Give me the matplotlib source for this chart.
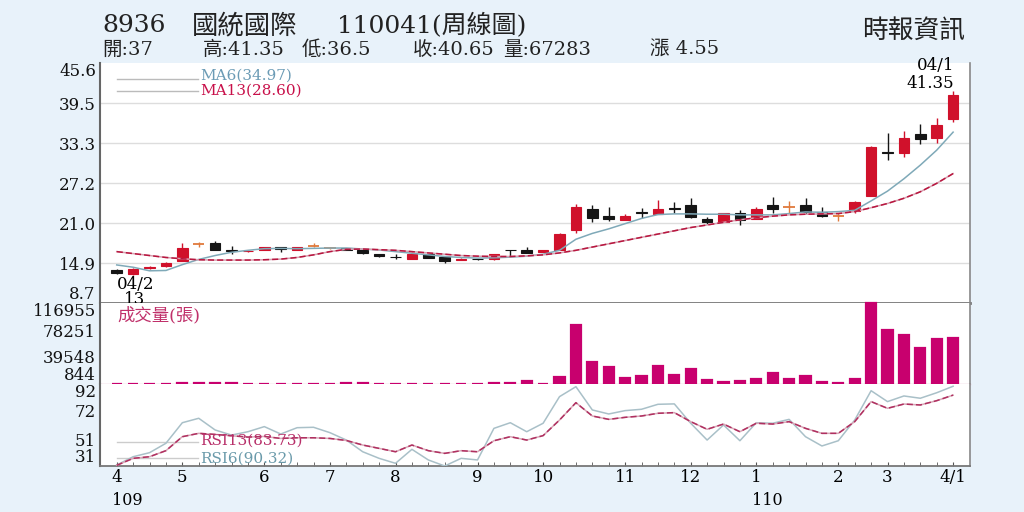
import numpy as np
import matplotlib.pyplot as plt

plt.rcParams['font.family'] = ['DejaVu Serif', 'Noto Sans CJK TC']

# weekly candles, index 0 = week of 109/04/13, last = 110/04/01
opens = [13.8, 13.2, 14.05, 14.35, 15.2, 17.7, 17.9, 16.8, 16.7, 16.9, 17.25, 16.9, 17.5, 17.1,
         17.1, 16.9, 16.2, 15.8, 15.5, 16.2, 15.7, 15.35, 15.45, 15.4, 16.85, 16.85, 16.55, 16.85,
         19.9, 23.15, 22.1, 21.5, 22.65, 22.4, 23.25, 23.8, 21.6, 21.2, 22.6, 21.6, 23.75, 23.5,
         23.75, 22.7, 22.1, 22.85, 25.15, 31.9, 31.7, 34.7, 34.0, 37.0]
closes = [13.3, 14.0, 14.3, 14.9, 17.1, 17.7, 16.85, 16.7, 16.75, 17.25, 16.95, 17.25, 17.5, 17.1,
          16.85, 16.4, 15.85, 15.7, 16.2, 15.6, 15.2, 15.45, 15.4, 16.2, 16.8, 16.45, 16.85, 19.3,
          23.4, 21.8, 21.6, 22.1, 22.5, 23.1, 23.15, 21.85, 21.15, 22.5, 21.5, 23.15, 23.1, 23.5,
          22.65, 22.0, 22.1, 24.3, 32.7, 31.8, 34.0, 33.9, 36.1, 40.65]
highs = [13.9, 14.1, 14.35, 15.0, 18.0, 18.1, 18.3, 17.5, 16.9, 17.35, 17.3, 17.3, 17.9, 17.2,
         17.15, 16.95, 16.25, 16.2, 16.6, 16.25, 15.75, 15.55, 15.5, 16.3, 16.9, 17.35, 16.9, 19.4,
         23.9, 23.8, 23.5, 22.4, 23.25, 24.5, 24.3, 24.8, 21.9, 22.6, 23.0, 23.4, 25.0, 24.4,
         24.8, 23.4, 22.6, 24.4, 32.8, 34.9, 35.2, 36.2, 37.1, 41.35]
lows = [13.2, 13.0, 14.0, 14.3, 15.1, 17.3, 16.8, 16.3, 16.6, 16.85, 16.5, 16.85, 17.35, 17.0,
        16.8, 16.2, 15.8, 15.4, 15.45, 15.55, 14.8, 15.3, 15.3, 15.35, 15.9, 16.4, 16.5, 16.8,
        19.5, 21.2, 21.3, 21.4, 21.8, 22.35, 22.5, 21.8, 20.85, 21.15, 20.7, 21.55, 22.6, 22.6,
        22.4, 21.9, 21.35, 22.5, 25.1, 30.7, 31.1, 33.1, 33.35, 36.5]
ma6 = [14.55, 14.2, 13.65, 13.7, 14.6, 15.4, 16.0, 16.5, 16.8, 17.05, 17.1, 17.05, 17.1, 17.15,
       17.15, 17.0, 16.85, 16.6, 16.35, 16.1, 15.85, 15.7, 15.6, 15.65, 15.75, 15.9, 16.2, 16.8,
       18.5, 19.4, 20.1, 20.9, 21.7, 22.3, 22.4, 22.4, 22.35, 22.35, 22.25, 22.25, 22.25, 22.45,
       22.7, 22.65, 22.75, 22.95, 24.4, 25.9, 27.8, 29.9, 32.2, 34.97]
ma13 = [16.6, 16.3, 16.0, 15.7, 15.5, 15.35, 15.3, 15.3, 15.3, 15.35, 15.45, 15.7, 16.1, 16.6,
        16.95, 17.0, 16.9, 16.8, 16.6, 16.4, 16.2, 16.0, 15.9, 15.85, 15.85, 15.95, 16.1, 16.4,
        16.8, 17.3, 17.8, 18.3, 18.8, 19.3, 19.8, 20.3, 20.7, 21.1, 21.5, 21.8, 22.05, 22.25,
        22.35, 22.4, 22.45, 22.75, 23.35, 24.0, 24.8, 25.8, 27.1, 28.6]
vol = [1500, 1500, 1200, 1300, 2700, 2200, 2200, 2000, 1100, 1100, 1100, 1100, 1100, 1500,
       1800, 1800, 1100, 1100, 1100, 1100, 1100, 1100, 1000, 2200, 2700, 5600, 1000, 10500,
       85400, 32800, 24800, 9900, 12300, 26200, 13700, 22300, 6600, 3700, 5100, 8000, 17000, 8000,
       12300, 3700, 2700, 8400, 116955, 78251, 70700, 52400, 65400, 67283]
rsi6 = [31.7, 37.9, 40.9, 47.9, 63.2, 66.5, 57.8, 54.0, 56.5, 60.3, 54.8, 59.5, 59.8, 55.8,
        50.3, 41.6, 36.7, 33.0, 43.4, 35.5, 31.0, 36.7, 35.5, 59.0, 63.2, 56.5, 62.8, 82.6,
        90.0, 72.7, 69.7, 72.2, 73.2, 76.9, 77.2, 62.8, 50.3, 61.5, 49.8, 63.2, 62.8, 65.7,
        52.8, 45.9, 49.8, 65.2, 87.0, 78.9, 83.1, 81.4, 85.5, 90.32]
rsi13 = [31.5, 36.7, 37.9, 42.4, 52.8, 55.3, 54.5, 53.5, 52.5, 53.0, 51.5, 52.0, 52.0, 51.5,
         50.0, 46.6, 44.1, 41.6, 46.6, 42.4, 40.4, 42.4, 41.6, 49.8, 52.8, 50.3, 53.6, 65.2,
         78.1, 68.2, 65.7, 67.2, 68.2, 70.2, 70.7, 64.0, 58.3, 62.2, 56.5, 62.8, 62.2, 64.0,
         59.0, 55.3, 55.3, 64.0, 78.9, 73.9, 77.1, 76.4, 79.6, 83.73]

month_pos = [0, 4, 9, 13, 17, 22, 26, 31, 35, 39, 44, 47, 51]
month_lbl = ['4', '5', '6', '7', '8', '9', '10', '11', '12', '1', '2', '3', '4/1']
price_ticks = [8.7, 14.85, 21.0, 27.15, 33.3, 39.45, 45.6]
price_lbl = ['8.7', '14.9', '21.0', '27.2', '33.3', '39.5', '45.6']
vol_ticks = [844, 39548, 78251, 116955]
rsi_ticks = [31, 51, 72, 92]

BG = '#e8f2fa'
RED = '#d0112b'
BLACK = '#151515'
ORANGE = '#e07a3c'
MAG = '#c8006e'

n = len(closes)
x = np.arange(n)

fig = plt.figure(figsize=(10.24, 5.12), dpi=100, facecolor=BG)


def box(top, bottom):
    return [100 / 1024, 1 - bottom / 512, 870 / 1024, (bottom - top) / 512]


ax1 = fig.add_axes(box(63, 303))
ax2 = fig.add_axes(box(303, 384))
ax3 = fig.add_axes(box(384, 466))

for ax in (ax1, ax2, ax3):
    ax.set_facecolor('white')
    ax.set_xlim(-1.02, 52.03)
    ax.spines['top'].set_visible(False)
    ax.spines['left'].set_color('#666666')
    ax.spines['left'].set_linewidth(1.5)
    ax.spines['right'].set_color('#888888')
    ax.spines['right'].set_linewidth(1.2)
    ax.tick_params(axis='y', length=0, pad=3, labelsize=12, colors='#111111')

# price panel
for t in price_ticks[1:-1]:
    ax1.axhline(t, color='#dddddd', lw=1, zorder=0)
for i in range(n):
    o, c, h, l = opens[i], closes[i], highs[i], lows[i]
    col = RED if c > o else (BLACK if c < o else ORANGE)
    ax1.vlines(i, l, h, color=col, lw=1, zorder=2)
    if c == o:
        ax1.hlines(o, i - 0.35, i + 0.35, color=col, lw=1.3, zorder=3)
    else:
        ax1.bar(i, abs(c - o), 0.65, bottom=min(o, c), color=col, edgecolor=col, lw=0.8, zorder=3)
ax1.plot(x, ma6, color='#7fa9b8', lw=1.1, zorder=4)
ax1.plot(x, ma13, color='#d8a0b0', lw=1.1, zorder=4)
ax1.plot(x, ma13, color='#b8163f', lw=1.1, dashes=(4, 2), zorder=4)
ax1.set_ylim(price_ticks[0], price_ticks[-1])
ax1.set_yticks(price_ticks, price_lbl)
ax1.tick_params(axis='x', length=0, labelbottom=False)
ax1.spines['bottom'].set_color('#777777')
ax1.spines['bottom'].set_linewidth(2)
ylabs = ax1.get_yticklabels()
ylabs[0].set_va('bottom')
ylabs[-1].set_va('top')

ax1.plot([0.02, 0.113], [0.935, 0.935], color='#bbbbbb', lw=1, transform=ax1.transAxes)
ax1.plot([0.02, 0.113], [0.885, 0.885], color='#bbbbbb', lw=1, transform=ax1.transAxes)
ax1.text(0.115, 0.948, f'MA6({ma6[-1]:.2f})', color='#6b9bb5', fontsize=11,
         va='center', transform=ax1.transAxes)
ax1.text(0.115, 0.885, f'MA13({ma13[-1]:.2f})', color='#c8104a', fontsize=11,
         va='center', transform=ax1.transAxes)

hi = int(np.argmax(highs))
lo = int(np.argmin(lows))
ax1.text(hi + 0.05, 45.15, '04/1', fontsize=12, ha='right', va='center')
ax1.text(hi + 0.05, 42.4, f'{highs[hi]:g}', fontsize=12, ha='right', va='center')
ax1.text(lo - 1.0, 11.6, '04/2', fontsize=12, ha='left', va='center')
ax1.text(lo + 0.1, 9.3, f'{lows[lo]:g}', fontsize=12, ha='center', va='center')

# volume panel
base = vol_ticks[0]
ax2.bar(x, [v - base for v in vol], 0.62, bottom=base, color=MAG, edgecolor=MAG, lw=1.6,
        zorder=3, clip_on=False)
ax2.set_ylim(vol_ticks[0], vol_ticks[-1])
ax2.set_yticks(vol_ticks, [str(v) for v in vol_ticks])
ax2.tick_params(axis='x', length=0, labelbottom=False)
ax2.spines['bottom'].set_color('#e6b8cc')
ax2.spines['bottom'].set_linewidth(1)
vlabs = ax2.get_yticklabels()
vlabs[0].set_va('bottom')
vlabs[-1].set_va('top')
ax2.text(0.02, 0.84, '成交量(張)', color='#c0306a', fontsize=12.5, va='center',
         transform=ax2.transAxes)

# RSI panel
ax3.plot(x, rsi6, color='#a9c0c8', lw=1.1, zorder=3)
ax3.plot(x, rsi13, color='#d8a8b8', lw=1.1, zorder=3)
ax3.plot(x, rsi13, color='#b03060', lw=1.1, dashes=(4, 2), zorder=3)
ax3.set_ylim(rsi_ticks[0], rsi_ticks[-1])
ax3.set_yticks(rsi_ticks, [str(v) for v in rsi_ticks])
rlabs = ax3.get_yticklabels()
rlabs[0].set_va('bottom')
rlabs[-1].set_va('top')
ax3.set_xticks(month_pos, month_lbl)
ax3.set_xticks(x, minor=True)
ax3.tick_params(axis='x', which='both', direction='in', length=3, color='#555555',
                labelsize=12, pad=2)
ax3.spines['bottom'].set_color('#777777')
ax3.spines['bottom'].set_linewidth(1.3)
ax3.text(-0.3, -0.42, '109', fontsize=11.5, ha='left', va='center',
         transform=ax3.get_xaxis_transform())
ax3.text(38.75, -0.42, '110', fontsize=11.5, ha='left', va='center',
         transform=ax3.get_xaxis_transform())

ax3.plot([0.02, 0.113], [0.29, 0.29], color='#cccccc', lw=1, transform=ax3.transAxes)
ax3.plot([0.02, 0.113], [0.1, 0.1], color='#cccccc', lw=1, transform=ax3.transAxes)
ax3.text(0.115, 0.31, f'RSI13({rsi13[-1]:.2f})', color='#b8306a', fontsize=11,
         va='center', transform=ax3.transAxes)
ax3.text(0.115, 0.085, f'RSI6({rsi6[-1]:.2f})', color='#6a9aaa', fontsize=11,
         va='center', transform=ax3.transAxes)

# header
fig.text(102 / 1024, 1 - 26 / 512, '8936', fontsize=18, va='center', color='#222222')
fig.text(192 / 1024, 1 - 26 / 512, '國統國際', fontsize=19, va='center', color='#222222')
fig.text(337 / 1024, 1 - 26 / 512, '110041(周線圖)', fontsize=18, va='center', color='#222222')
chg = closes[-1] - closes[-2]
line2 = [(102, f'開:{opens[-1]:g}'), (203, f'高:{highs[-1]:g}'), (302, f'低:{lows[-1]:g}'),
         (413, f'收:{closes[-1]:g}'), (503, f'量:{vol[-1]}'), (650, f'漲 {chg:.2f}')]
for px, s in line2:
    fig.text(px / 1024, 1 - 50 / 512, s, fontsize=14, va='center', color='#222222')
fig.text(965 / 1024, 1 - 30 / 512, '時報資訊', fontsize=18.5, ha='right', va='center',
         color='#222222')

fig.savefig('out.png', dpi=100, facecolor=BG)
